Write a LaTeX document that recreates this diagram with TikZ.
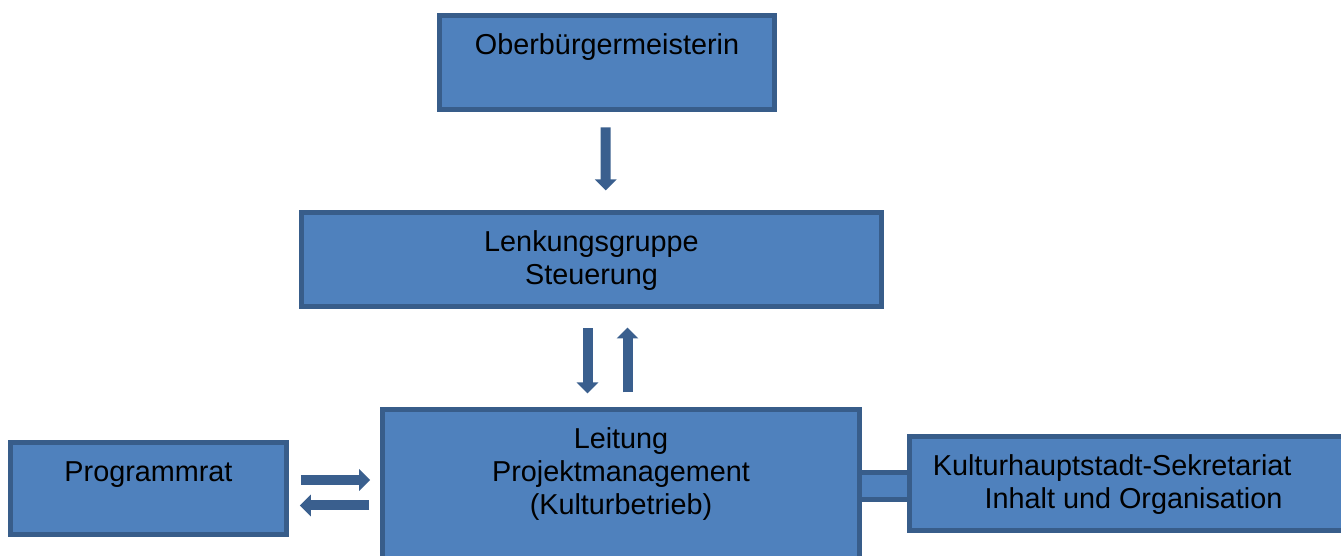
\documentclass[tikz,border=0pt]{standalone}
\usepackage{fontspec}
\setmainfont{Liberation Sans}
\usetikzlibrary{arrows.meta,calc,backgrounds}
\definecolor{kastenblau}{HTML}{4F81BD}
\definecolor{randblau}{HTML}{385D8A}
\definecolor{pfeilblau}{HTML}{3A5F8E}
\tikzset{
	kasten/.style={draw=randblau, fill=kastenblau, line width=3.75pt, align=center, inner sep=2pt,
		font=\fontsize{21.6}{24.75}\selectfont},
	pfeil/.style={draw=pfeilblau, line width=7.5pt, -{Triangle[width=15.75pt,length=8.25pt]}},
	steg/.style={draw=randblau, line width=3.75pt, double=kastenblau, double distance=16.5pt}
}
\begin{document}
\begin{tikzpicture}[x=0.75pt,y=0.75pt]
				\useasboundingbox (0,0) rectangle (1341,556);
				
				\node[kasten, minimum width=251.25pt, minimum height=70.5pt, text height=0pt, text depth=11.25pt]
					(obm) at (607,493.5) {Oberbürgermeisterin};
				\node[kasten, minimum width=435pt, minimum height=70.5pt, text height=38.25pt, text depth=0pt]
					(lenk) at (591.5,296.5) {Lenkungsgruppe\\Steuerung};
				\node[kasten, minimum width=357.75pt, minimum height=126pt, text height=32.25pt, text depth=0pt]
					(leit) at (621,62.5) {Leitung\\Projektmanagement\\(Kulturbetrieb)};
				\node[kasten, minimum width=207pt, minimum height=69pt, text height=0pt, text depth=10.2pt]
					(prog) at (148.5,67.5) {Programmrat};
				\node[kasten, minimum width=336pt, minimum height=70.5pt, text height=37.2pt, text depth=0pt]
					(kultur) at (1133.5,72.5) {Kulturhauptstadt-Sekretariat\makebox[32pt]{}\\Inhalt und Organisation};
				
				\begin{scope}[on background layer]
					\draw[steg] ($(kultur.west)+(0,-2.5)$) -- ($(leit.east |- kultur.west)+(0,-2.5)$);
				\end{scope}
				
				\draw[pfeil] ($(obm.south)+(-1.3,-15.5)$) -- ($(lenk.north)+(14.2,19.5)$);
				\draw[pfeil] ($(lenk.south)+(-4,-19.5)$) -- ($(leit.north)+(-33.5,13.5)$);
				\draw[pfeil] ($(leit.north)+(6.5,14.5)$) -- ($(lenk.south)+(36,-18.5)$);
				\draw[pfeil] ($(prog.east)+(11.8,8.5)$) -- ($(leit.west)+(-9.8,13.5)$);
				\draw[pfeil] ($(leit.west)+(-10.8,-12)$) -- ($(prog.east)+(10.8,-17)$);
				\end{tikzpicture}
\end{document}
